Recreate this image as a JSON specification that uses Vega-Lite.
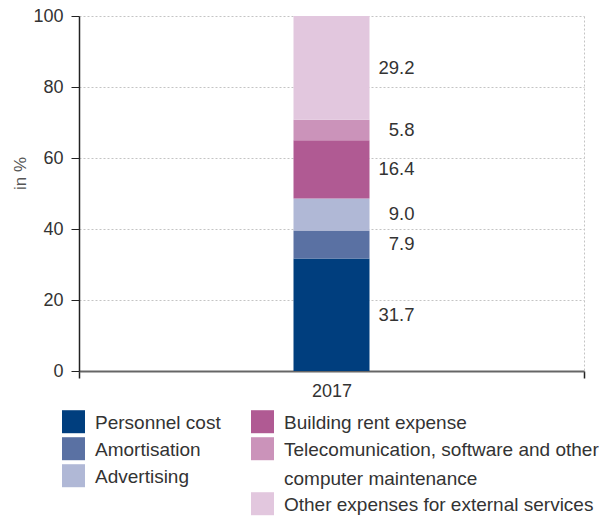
{
  "$schema": "https://vega.github.io/schema/vega-lite/v6.json",
  "width": 505,
  "height": 355,
  "autosize": {"type": "none"},
  "padding": {"left": 79, "top": 16, "right": 29, "bottom": 146},
  "background": "white",
  "data": {
    "values": [
      {"year": "2017", "category": "Personnel cost", "value": 31.7, "order": 1},
      {"year": "2017", "category": "Amortisation", "value": 7.9, "order": 2},
      {"year": "2017", "category": "Advertising", "value": 9.0, "order": 3},
      {"year": "2017", "category": "Building rent expense", "value": 16.4, "order": 4},
      {"year": "2017", "category": "Telecomunication, software and other computer maintenance", "value": 5.8, "order": 5},
      {"year": "2017", "category": "Other expenses for external services", "value": 29.2, "order": 6}
    ]
  },
  "transform": [
    {"stack": "value", "groupby": ["year"], "sort": [{"field": "order", "order": "ascending"}], "as": ["y0", "y1"]},
    {"calculate": "(datum.y0 + datum.y1) / 2", "as": "ymid"}
  ],
  "encoding": {
    "x": {
      "field": "year",
      "type": "nominal",
      "scale": {"paddingInner": 0, "paddingOuter": 0},
      "axis": {"title": null}
    }
  },
  "layer": [
    {
      "transform": [{"filter": "datum.order <= 3"}],
      "mark": {"type": "bar", "width": 76},
      "encoding": {
        "y": {"field": "y0", "type": "quantitative", "scale": {"domain": [0, 100]}, "axis": {"title": "in %", "values": [0, 20, 40, 60, 80, 100]}},
        "y2": {"field": "y1"},
        "color": {
          "field": "category",
          "type": "nominal",
          "scale": {"domain": ["Personnel cost", "Amortisation", "Advertising"], "range": ["#003e7e", "#5a71a3", "#b0b8d6"]},
          "legend": {
            "orient": "none", "legendX": -17, "legendY": 401, "title": null,
            "symbolType": "M-1,-1.59H1V0.41H-1Z", "symbolSize": 529, "symbolStrokeWidth": 0,
            "labelFontSize": 19, "labelBaseline": "alphabetic", "labelOffset": 10,
            "rowPadding": 3, "labelLimit": 400, "labelColor": "#333", "padding": 0
          }
        }
      }
    },
    {
      "transform": [{"filter": "datum.order > 3"}],
      "mark": {"type": "bar", "width": 76},
      "encoding": {
        "y": {"field": "y0", "type": "quantitative", "scale": {"domain": [0, 100]}, "axis": {"title": "in %", "values": [0, 20, 40, 60, 80, 100]}},
        "y2": {"field": "y1"},
        "color": {
          "field": "category",
          "type": "nominal",
          "scale": {"domain": ["Building rent expense", "Telecomunication, software and other computer maintenance", "Other expenses for external services"], "range": ["#b05a93", "#cb93ba", "#e2c7de"]},
          "legend": {
            "orient": "none", "legendX": 172, "legendY": 401, "title": null,
            "symbolType": "M-1,-1.59H1V0.41H-1Z", "symbolSize": 529, "symbolStrokeWidth": 0,
            "labelFontSize": 19, "labelBaseline": "alphabetic", "labelOffset": 10,
            "rowPadding": 3, "labelLimit": 400, "labelColor": "#333", "padding": 0,
            "labelExpr": "datum.label == 'Telecomunication, software and other computer maintenance' ? ['Telecomunication, software and other', 'computer maintenance'] : datum.label"
          }
        }
      }
    },
    {
      "mark": {"type": "text", "align": "right", "baseline": "middle", "dx": 83, "fontSize": 18.5, "color": "#333"},
      "encoding": {
        "y": {"field": "ymid", "type": "quantitative", "axis": {"title": "in %", "values": [0, 20, 40, 60, 80, 100]}},
        "text": {"field": "value", "type": "quantitative", "format": ".1f"}
      }
    }
  ],
  "resolve": {"scale": {"color": "independent"}},
  "config": {
    "font": "Liberation Sans",
    "view": {"stroke": null},
    "style": {"guide-label": {"lineHeight": 29}},
    "axisY": {
      "grid": true, "gridDash": [2, 2], "gridColor": "#c4c4c4", "gridWidth": 1,
      "domainColor": "#222", "domainWidth": 1.5,
      "tickColor": "#222", "tickSize": 8, "tickWidth": 1,
      "labelFontSize": 18, "labelColor": "#333", "labelPadding": 8,
      "titleFontSize": 17, "titleFontWeight": "normal", "titleColor": "#555",
      "titleX": -50, "titleY": 157
    },
    "axisX": {
      "grid": true, "gridDash": [2, 2], "gridColor": "#c4c4c4", "gridWidth": 1,
      "tickBand": "extent",
      "domainColor": "#666", "domainWidth": 2,
      "tickColor": "#222", "tickSize": 7, "tickWidth": 1.5,
      "labelAngle": 0, "labelFontSize": 18, "labelColor": "#333", "labelPadding": 4,
      "zindex": 1
    }
  }
}
